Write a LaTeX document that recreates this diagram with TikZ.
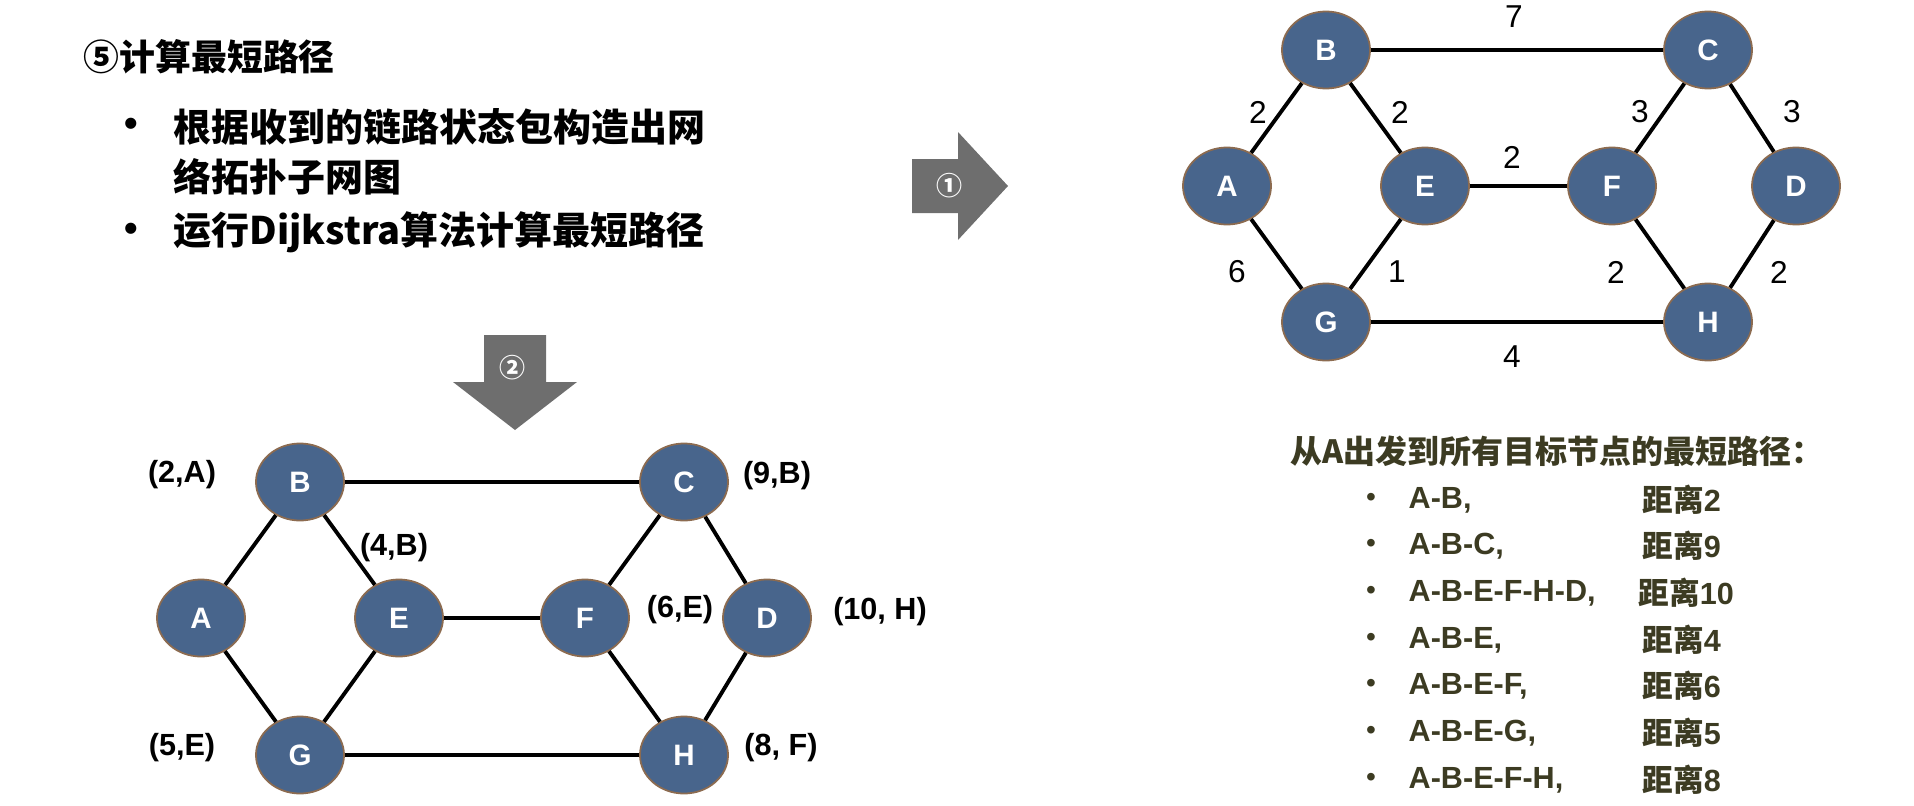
\documentclass[tikz,border=0pt]{standalone}
\usepackage{fontspec}
\setmainfont{Liberation Sans}
\newfontfamily\cjk{Noto Sans CJK SC}
\usetikzlibrary{shapes.geometric,positioning}
\definecolor{knotblue}{HTML}{48658C}
\definecolor{knotrim}{HTML}{8C6B50}
\definecolor{stepgray}{HTML}{6E6E6E}
\definecolor{pathtext}{HTML}{3C3B22}

\begin{document}
\begin{tikzpicture}[x=0.01cm,y=-0.01cm,
  router/.style={ellipse,fill=knotblue,draw=knotrim,line width=0.5pt,minimum width=0.88cm,minimum height=0.77cm,inner sep=0pt,text=white,font=\bfseries\fontsize{8.4}{8}\selectfont},
  link/.style={line width=1.1pt},
  weight/.style={inner sep=0pt,font=\fontsize{9}{9}\selectfont},
  prev/.style={inner sep=0pt,font=\bfseries\fontsize{8.7}{9}\selectfont},
  line/.style={anchor=west,inner sep=0pt,font=\cjk\bfseries\fontsize{10.8}{12}\selectfont},
  dot/.style={inner sep=0pt,font=\fontsize{8}{8}\selectfont},
  item/.style={anchor=west,inner sep=0pt,text=pathtext,font=\bfseries\fontsize{8.7}{9}\selectfont}]
  \useasboundingbox (0,0) rectangle (1914,806);

  % text at the top left
  \node[anchor=west,inner sep=0pt,font=\cjk\bfseries\fontsize{10.2}{12}\selectfont] (title) at (83,57) {⑤计算最短路径};
  \node[dot,font=\bfseries\fontsize{11}{11}\selectfont] (dot1) at (131,127) {•};
  \node[line] (line1) at (173,127) {根据收到的链路状态包构造出网};
  \node[line] (line2) at (173,177) {络拓扑子网图};
  \node[dot,font=\bfseries\fontsize{11}{11}\selectfont] (dot2) at (131,232) {•};
  \node[line] (line3) at (173,232) {运行Dijkstra算法计算最短路径};

  % step arrows
  \fill[stepgray] (912,159) -- (958,159) -- (958,132) -- (1008,186) -- (958,240) -- (958,213) -- (912,213) -- cycle;
  \node[text=white,inner sep=0pt,font=\cjk\bfseries\fontsize{7.4}{8}\selectfont] (one) at (950,186) {①};
  \fill[stepgray] (484,335) -- (546,335) -- (546,382) -- (577,382) -- (515,430) -- (453,382) -- (484,382) -- cycle;
  \node[text=white,inner sep=0pt,font=\cjk\bfseries\fontsize{7.4}{8}\selectfont] (two) at (513,368) {②};

  % topology with link costs
  \node[router] (rA) at (1227,186) {A};
  \node[router] (rB) at (1326,50) {B};
  \node[router] (rC) at (1708,50) {C};
  \node[router] (rE) at (1425,186) {E};
  \node[router] (rF) at (1612,186) {F};
  \node[router] (rD) at (1796,186) {D};
  \node[router] (rG) at (1326,322) {G};
  \node[router] (rH) at (1708,322) {H};
  \draw[link] (rA) -- (rB);
  \draw[link] (rB) -- (rC);
  \draw[link] (rB) -- (rE);
  \draw[link] (rE) -- (rF);
  \draw[link] (rC) -- (rF);
  \draw[link] (rC) -- (rD);
  \draw[link] (rA) -- (rG);
  \draw[link] (rE) -- (rG);
  \draw[link] (rF) -- (rH);
  \draw[link] (rD) -- (rH);
  \draw[link] (rG) -- (rH);
  \node[weight] (wBC) at (1514,17) {7};
  \node[weight] (wAB) at (1258,112) {2};
  \node[weight] (wBE) at (1400,112) {2};
  \node[weight] (wEF) at (1512,157) {2};
  \node[weight] (wCF) at (1640,112) {3};
  \node[weight] (wCD) at (1792,112) {3};
  \node[weight] (wAG) at (1237,272) {6};
  \node[weight] (wEG) at (1397,272) {1};
  \node[weight] (wFH) at (1616,272) {2};
  \node[weight] (wDH) at (1779,272) {2};
  \node[weight] (wGH) at (1512,357) {4};

  % result tree labels
  \node[router] (lA) at (201,618) {A};
  \node[router] (lB) at (300,482) {B};
  \node[router] (lC) at (684,482) {C};
  \node[router] (lE) at (399,618) {E};
  \node[router] (lF) at (585,618) {F};
  \node[router] (lD) at (767,618) {D};
  \node[router] (lG) at (300,755) {G};
  \node[router] (lH) at (684,755) {H};
  \draw[link] (lA) -- (lB);
  \draw[link] (lB) -- (lC);
  \draw[link] (lB) -- (lE);
  \draw[link] (lE) -- (lF);
  \draw[link] (lC) -- (lF);
  \draw[link] (lC) -- (lD);
  \draw[link] (lA) -- (lG);
  \draw[link] (lE) -- (lG);
  \draw[link] (lF) -- (lH);
  \draw[link] (lD) -- (lH);
  \draw[link] (lG) -- (lH);
  \node[prev] (pB) at (182,475) {(2,A)};
  \node[prev] (pE) at (394,548) {(4,B)};
  \node[prev] (pC) at (777,476) {(9,B)};
  \node[prev] (pF) at (680,610) {(6,E)};
  \node[prev] (pD) at (880,612) {(10, H)};
  \node[prev] (pG) at (182,748) {(5,E)};
  \node[prev] (pH) at (781,748) {(8, F)};

  % shortest paths from A
  \node[anchor=west,inner sep=0pt,text=pathtext,font=\cjk\bfseries\fontsize{9.1}{10}\selectfont] (head) at (1290,451) {从A出发到所有目标节点的最短路径：};
  \node[dot,text=pathtext] (i1) at (1371,500) {•};
  \node[item] (p1) at (1408,500) {A-B,};
  \node[item] (d1) at (1642,500) {{\cjk 距离}2};
  \node[dot,text=pathtext] (i2) at (1371,546) {•};
  \node[item] (p2) at (1408,546) {A-B-C,};
  \node[item] (d2) at (1642,546) {{\cjk 距离}9};
  \node[dot,text=pathtext] (i3) at (1371,593) {•};
  \node[item] (p3) at (1408,593) {A-B-E-F-H-D,};
  \node[item] (d3) at (1638,593) {{\cjk 距离}10};
  \node[dot,text=pathtext] (i4) at (1371,640) {•};
  \node[item] (p4) at (1408,640) {A-B-E,};
  \node[item] (d4) at (1642,640) {{\cjk 距离}4};
  \node[dot,text=pathtext] (i5) at (1371,686) {•};
  \node[item] (p5) at (1408,686) {A-B-E-F,};
  \node[item] (d5) at (1642,686) {{\cjk 距离}6};
  \node[dot,text=pathtext] (i6) at (1371,733) {•};
  \node[item] (p6) at (1408,733) {A-B-E-G,};
  \node[item] (d6) at (1642,733) {{\cjk 距离}5};
  \node[dot,text=pathtext] (i7) at (1371,780) {•};
  \node[item] (p7) at (1408,780) {A-B-E-F-H,};
  \node[item] (d7) at (1642,780) {{\cjk 距离}8};
\end{tikzpicture}
\end{document}
